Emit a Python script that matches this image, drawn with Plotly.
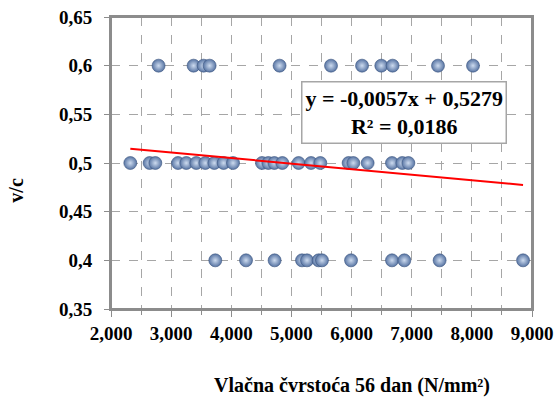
import plotly.graph_objects as go
import numpy as np

# ---- data ----
x_06 = [2791, 3373, 3540, 3640, 4803, 5658, 6174, 6494, 6682, 7437, 8019]
x_05 = [2321, 2642, 2737, 3114, 3252, 3418, 3568, 3718, 3872, 4029, 4511, 4616,
        4716, 4849, 5119, 5326, 5480, 5951, 6029, 6267, 6672, 6844, 6944]
x_04 = [3734, 4245, 4720, 5176, 5259, 5452, 5508, 5991, 6672, 6877, 7464, 8851]
vc_levels = [0.6, 0.5, 0.4]

trend_slope = -0.0057   # per 1000 N/mm2
trend_intercept = 0.5279
r_squared_label = "R² = 0,0186"
equation_label = "y = -0,0057x + 0,5279"

x_tick_vals = [2000, 3000, 4000, 5000, 6000, 7000, 8000, 9000]
x_tick_labels = ["2,000", "3,000", "4,000", "5,000", "6,000", "7,000", "8,000", "9,000"]
y_tick_vals = [0.35, 0.40, 0.45, 0.50, 0.55, 0.60, 0.65]
y_tick_labels = ["0,35", "0,4", "0,45", "0,5", "0,55", "0,6", "0,65"]

x_title = "Vlačna čvrstoća 56 dan (N/mm²)"
y_title = "v/c"

# ---- build ----
xs = x_06 + x_05 + x_04
ys = [vc_levels[0]] * len(x_06) + [vc_levels[1]] * len(x_05) + [vc_levels[2]] * len(x_04)

SERIF = "Liberation Serif, Times New Roman, Times, DejaVu Serif, serif"

fig = go.Figure()

fig.add_trace(go.Scatter(
    x=xs, y=ys, mode="markers",
    marker=dict(size=13, color="#5774a3",
                gradient=dict(type="radial", color="#cddbef"),
                line=dict(color="#3d5580", width=0.6)),
    showlegend=False, hoverinfo="x+y"))

tx = np.array([min(xs), max(xs)], dtype=float)
ty = trend_slope * tx / 1000.0 + trend_intercept
fig.add_trace(go.Scatter(x=tx, y=ty, mode="lines",
                         line=dict(color="#ff0000", width=2),
                         showlegend=False, hoverinfo="skip"))

font_b = dict(family=SERIF, size=19, color="#000000", weight="bold")
grid_col = "#a6a6a6"
axis_col = "#8c8c8c"

# reference plot area (window px)
L, R, T, B = 110.7, 531.7, 16.5, 308.7
fig.update_layout(
    width=558, height=403,
    margin=dict(l=L, r=558 - R, t=T, b=403 - B),
    paper_bgcolor="white", plot_bgcolor="white",
    font=font_b,
    xaxis=dict(range=[2000, 9000], tickvals=x_tick_vals, ticktext=x_tick_labels,
               showgrid=True, gridcolor=grid_col, griddash="dash", gridwidth=1,
               minor=dict(dtick=500, tick0=2000, showgrid=True, gridcolor=grid_col,
                          griddash="dash", ticks="outside", ticklen=4, tickcolor=axis_col),
               showline=True, linecolor=axis_col, linewidth=2, mirror=True,
               ticks="outside", ticklen=6, tickcolor=axis_col, zeroline=False,
               tickfont=font_b, automargin=False),
    yaxis=dict(range=[0.35, 0.65], tickvals=y_tick_vals, ticktext=y_tick_labels,
               showgrid=True, gridcolor=grid_col, griddash="dash", gridwidth=1,
               showline=True, linecolor=axis_col, linewidth=2, mirror=True,
               ticks="outside", ticklen=5, tickcolor=axis_col, zeroline=False,
               ticklabelstandoff=8,
               tickfont=font_b, automargin=False),
)

# plot frame
fig.add_shape(type="rect", xref="paper", yref="paper", x0=0, y0=0, x1=1, y1=1,
              line=dict(color=axis_col, width=2), layer="above")

def px(xp):
    return (xp - L) / (R - L)

def py(yp):
    return (B - yp) / (B - T)

# axis titles
fig.add_annotation(text=x_title, xref="paper", yref="paper",
                   x=px(352), y=py(385), showarrow=False,
                   font=dict(family=SERIF, size=20, weight="bold", color="#000"),
                   xanchor="center", yanchor="middle")
fig.add_annotation(text=y_title, xref="paper", yref="paper",
                   x=px(16), y=py(190), showarrow=False, textangle=-90,
                   font=dict(family=SERIF, size=20, weight="bold", color="#000"),
                   xanchor="center", yanchor="middle")

# trendline label box
fig.add_annotation(text=equation_label + "<br>" + r_squared_label,
                   xref="paper", yref="paper",
                   x=px(404), y=py(112.5), showarrow=False,
                   font=dict(family=SERIF, size=22, weight="bold", color="#000"),
                   bgcolor="white", bordercolor="#a6a6a6", borderwidth=1.5, borderpad=3,
                   xanchor="center", yanchor="middle", align="center")

fig.write_html("out.html", config={"displayModeBar": False},
               post_script="document.body.style.margin='0';")
